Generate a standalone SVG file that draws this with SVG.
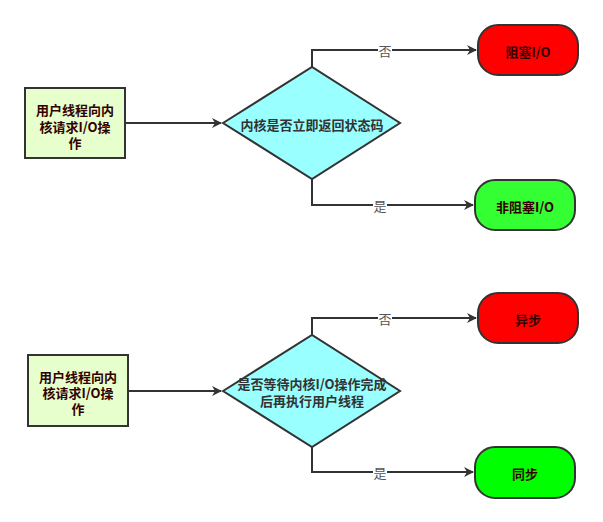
<svg xmlns="http://www.w3.org/2000/svg" width="603" height="522" viewBox="0 0 603 522">
<style>
text{font-family:"Noto Sans CJK SC","Liberation Sans",sans-serif;text-anchor:middle;dominant-baseline:central;font-size:13px;font-weight:bold}
.box{fill:#e6ffcc;stroke:#333;stroke-width:2}
.dia{fill:#99ffff;stroke:#333;stroke-width:2}
.red{fill:#ff0000;stroke:#333;stroke-width:2}
.grn{stroke:#333;stroke-width:2}
.bt{fill:#330000}
.dt{fill:#333}
.rt{fill:#330000}
.edge{fill:none;stroke:#333;stroke-width:2}
.lbl{fill:#555;font-weight:normal}
.lblbg{fill:#fff}
</style>
<defs>
<marker id="arr" markerWidth="10" markerHeight="10" refX="9" refY="5" orient="auto" markerUnits="userSpaceOnUse">
<path d="M0,0 L10,5 L0,10 L3,5 Z" fill="#333"/>
</marker>
</defs>
<g id="connectors">
<path class="edge" d="M126,123 L221,123" marker-end="url(#arr)"/>
<path class="edge" d="M312,67 L312,50 L476,50" marker-end="url(#arr)"/>
<path class="edge" d="M312,179 L312,205 L473,205" marker-end="url(#arr)"/>
<rect class="lblbg" x="378" y="42" width="14" height="16"/>
<text class="lbl" x="385" y="50">否</text>
<rect class="lblbg" x="373" y="197" width="14" height="16"/>
<text class="lbl" x="380" y="205">是</text>
<path class="edge" d="M128,391 L221,391" marker-end="url(#arr)"/>
<path class="edge" d="M312,335 L312,318 L476,318" marker-end="url(#arr)"/>
<path class="edge" d="M312,447 L312,472 L473,472" marker-end="url(#arr)"/>
<rect class="lblbg" x="378" y="310" width="14" height="16"/>
<text class="lbl" x="385" y="318">否</text>
<rect class="lblbg" x="373" y="464" width="14" height="16"/>
<text class="lbl" x="380" y="472">是</text>
</g>
<g id="start1">
<rect class="box" x="25" y="88" width="100" height="70"/>
<text class="bt" x="75" y="109"><tspan x="75" y="109">用户线程向内</tspan><tspan x="75" y="126">核请求I/O操</tspan><tspan x="75" y="142">作</tspan></text>
</g>
<g id="decision1">
<polygon class="dia" points="223,123 312,67 400,123 312,179"/>
<text class="dt" x="312" y="124">内核是否立即返回状态码</text>
</g>
<g id="blocking">
<rect class="red" x="478" y="25" width="100" height="50" rx="20"/>
<text class="rt" x="528" y="51">阻塞I/O</text>
</g>
<g id="nonblocking">
<rect class="grn" x="475" y="180" width="100" height="50" rx="20" fill="#33ff33"/>
<text class="rt" x="525" y="206">非阻塞I/O</text>
</g>
<g id="start2">
<rect class="box" x="28" y="355" width="100" height="71"/>
<text class="bt" x="78" y="376"><tspan x="78" y="376">用户线程向内</tspan><tspan x="78" y="392">核请求I/O操</tspan><tspan x="78" y="408">作</tspan></text>
</g>
<g id="decision2">
<polygon class="dia" points="223,391 312,335 400,391 312,447"/>
<text class="dt" x="312" y="383"><tspan x="312" y="383">是否等待内核I/O操作完成</tspan><tspan x="312" y="400">后再执行用户线程</tspan></text>
</g>
<g id="async">
<rect class="red" x="478" y="293" width="100" height="50" rx="20"/>
<text class="rt" x="528" y="319">异步</text>
</g>
<g id="sync">
<rect class="grn" x="475" y="447" width="100" height="51" rx="20" fill="#00ff00"/>
<text class="rt" x="525" y="473">同步</text>
</g>
</svg>
